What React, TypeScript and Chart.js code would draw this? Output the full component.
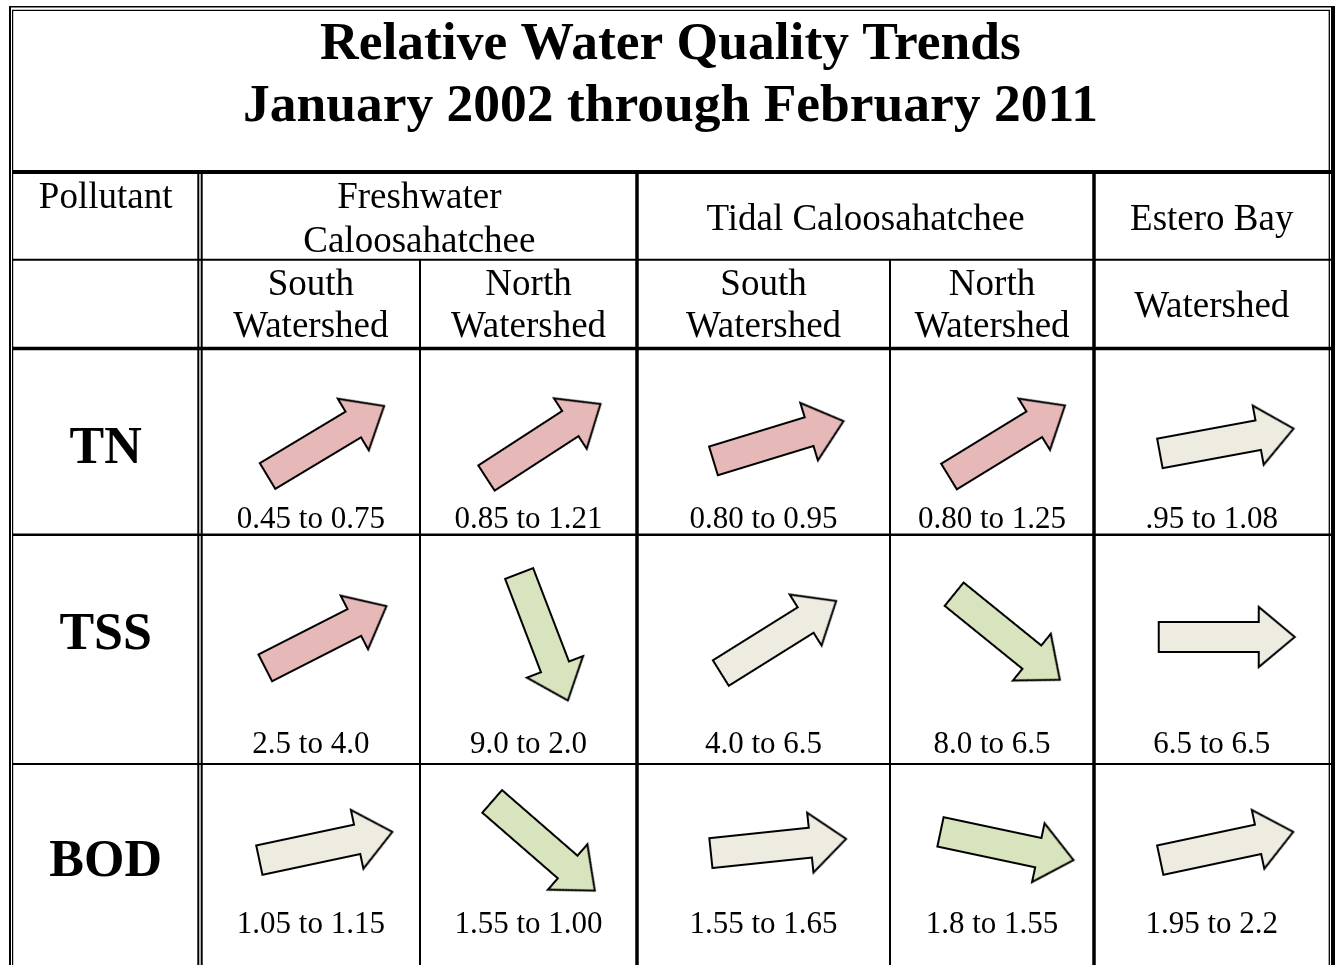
import React, { useEffect, useRef } from 'react';
import { Chart, registerables } from 'chart.js';

Chart.register(...registerables);

// ---------------- data ----------------
const titleLines = ['Relative Water Quality Trends', 'January 2002 through February 2011'];
const pollutantHeader = 'Pollutant';
const regionNames = [['Freshwater', 'Caloosahatchee'], ['Tidal Caloosahatchee'], ['Estero Bay']];
const watershedNames = [['South', 'Watershed'], ['North', 'Watershed'], ['South', 'Watershed'], ['North', 'Watershed'], ['Watershed']];
const pollutants = ['TN', 'TSS', 'BOD'];

const tnFrom = ['0.45', '0.85', '0.80', '0.80', '.95'];
const tnTo = ['0.75', '1.21', '0.95', '1.25', '1.08'];
const tssFrom = ['2.5', '9.0', '4.0', '8.0', '6.5'];
const tssTo = ['4.0', '2.0', '6.5', '6.5', '6.5'];
const bodFrom = ['1.05', '1.55', '1.55', '1.8', '1.95'];
const bodTo = ['1.15', '1.00', '1.65', '1.55', '2.2'];

// trend class of each cell: up = worsening, down = improving, none = no significant trend
const tnTrend = ['up', 'up', 'up', 'up', 'none'];
const tssTrend = ['up', 'down', 'none', 'down', 'none'];
const bodTrend = ['none', 'down', 'none', 'down', 'none'];

// direction of each trend arrow as drawn (degrees, clockwise from east)
const tnAngle = [-31, -33, -17, -31.5, -10.5];
const tssAngle = [-27, 69, -32, 39, 0];
const bodAngle = [-12, 41, -6, 12, -12];

const fromValues = [tnFrom, tssFrom, bodFrom];
const toValues = [tnTo, tssTo, bodTo];
const trends = [tnTrend, tssTrend, bodTrend];
const angles = [tnAngle, tssAngle, bodAngle];

// ---------------- look & layout ----------------
const W = 1335;
const H = 965;
const SERIF = '"Liberation Serif", "Times New Roman", serif';
const TREND_FILL: Record<string, string> = { up: '#e6b9b8', down: '#d7e4bd', none: '#eeece1' };

const LAYOUT = {
  labelCol: [13, 198.3],
  dataCols: [[201.7, 420], [420, 637], [637, 890], [890, 1094], [1094, 1329.5]],
  regionSpans: [[0, 1], [2, 3], [4, 4]],
  titleBase: [59, 121],
  head1Base: { two: [208, 252], one: 230 },
  head2Base: { two: [295, 337], one: 317 },
  rows: [
    { label: 463, value: 528, arrow: 441 },
    { label: 649, value: 753, arrow: 637 },
    { label: 876, value: 933, arrow: 846 },
  ],
  arrowDx: 15,
};

const colCenter = (c: number) => (LAYOUT.dataCols[c][0] + LAYOUT.dataCols[c][1]) / 2;

function makeArrow(fill: string): HTMLCanvasElement {
  const L = 136, sw = 30, hw = 60, hl = 36, pad = 3;
  const c = document.createElement('canvas');
  c.width = L + pad * 2;
  c.height = hw + pad * 2;
  const g = c.getContext('2d')!;
  const cy = c.height / 2, x0 = pad, x1 = pad + L, xh = x1 - hl;
  g.beginPath();
  g.moveTo(x0, cy - sw / 2);
  g.lineTo(xh, cy - sw / 2);
  g.lineTo(xh, cy - hw / 2);
  g.lineTo(x1, cy);
  g.lineTo(xh, cy + hw / 2);
  g.lineTo(xh, cy + sw / 2);
  g.lineTo(x0, cy + sw / 2);
  g.closePath();
  g.fillStyle = fill;
  g.fill();
  g.lineWidth = 2;
  g.lineJoin = 'miter';
  g.strokeStyle = '#000';
  g.stroke();
  return c;
}

const tablePlugin = {
  id: 'waterTable',
  beforeDatasetsDraw(chart: any) {
    const { ctx } = chart;
    const xs = chart.scales.x, ys = chart.scales.y;
    const X = (v: number) => xs.getPixelForValue(v);
    const Y = (v: number) => ys.getPixelForValue(v);
    ctx.save();
    ctx.fillStyle = '#fff';
    ctx.fillRect(0, 0, chart.width, chart.height);
    ctx.strokeStyle = '#000';
    const hline = (y: number, x0: number, x1: number, w: number) => {
      ctx.lineWidth = w;
      ctx.beginPath();
      ctx.moveTo(X(x0), Y(y));
      ctx.lineTo(X(x1), Y(y));
      ctx.stroke();
    };
    const vline = (x: number, y0: number, y1: number, w: number) => {
      ctx.lineWidth = w;
      ctx.beginPath();
      ctx.moveTo(X(x), Y(y0));
      ctx.lineTo(X(x), Y(y1));
      ctx.stroke();
    };
    // outer double border
    hline(6.7, 9, 1335, 1.5);
    hline(10.3, 12, 1330, 1.3);
    vline(10, 6, H, 2);
    vline(12.6, 10, H, 1.2);
    vline(1329.3, 10, H, 1.3);
    vline(1333, 6, H, 4);
    // horizontal rules
    hline(172, 12, 1331, 4);
    hline(259.7, 12, 1331, 2);
    hline(348.5, 12, 1331, 3.5);
    hline(534.8, 12, 1331, 2.5);
    hline(764, 12, 1331, 2);
    // vertical rules
    vline(198.3, 172, H, 2);
    vline(201.7, 172, H, 2);
    vline(420, 260, H, 2);
    vline(637, 172, H, 3.5);
    vline(890, 260, H, 2);
    vline(1094, 172, H, 3.5);

    // text
    ctx.fillStyle = '#000';
    ctx.textAlign = 'center';
    ctx.textBaseline = 'alphabetic';
    const mid = W / 2 + 3;
    ctx.font = `bold 53.5px ${SERIF}`;
    titleLines.forEach((t, i) => ctx.fillText(t, X(mid), Y(LAYOUT.titleBase[i])));

    ctx.font = `37px ${SERIF}`;
    const labelCx = (LAYOUT.labelCol[0] + LAYOUT.labelCol[1]) / 2;
    ctx.fillText(pollutantHeader, X(labelCx), Y(LAYOUT.head1Base.two[0]));
    regionNames.forEach((lines, i) => {
      const [a, b] = LAYOUT.regionSpans[i];
      const cx = (LAYOUT.dataCols[a][0] + LAYOUT.dataCols[b][1]) / 2;
      if (lines.length === 2) lines.forEach((t, j) => ctx.fillText(t, X(cx), Y(LAYOUT.head1Base.two[j])));
      else ctx.fillText(lines[0], X(cx), Y(LAYOUT.head1Base.one));
    });
    watershedNames.forEach((lines, c) => {
      const cx = colCenter(c);
      if (lines.length === 2) lines.forEach((t, j) => ctx.fillText(t, X(cx), Y(LAYOUT.head2Base.two[j])));
      else ctx.fillText(lines[0], X(cx), Y(LAYOUT.head2Base.one));
    });

    ctx.font = `bold 52px ${SERIF}`;
    pollutants.forEach((p, r) => ctx.fillText(p, X(labelCx), Y(LAYOUT.rows[r].label)));

    ctx.font = `31px ${SERIF}`;
    pollutants.forEach((_, r) => {
      fromValues[r].forEach((f, c) => {
        ctx.fillText(`${f} to ${toValues[r][c]}`, X(colCenter(c)), Y(LAYOUT.rows[r].value));
      });
    });
    ctx.restore();
  },
};

export default function App() {
  const ref = useRef<HTMLCanvasElement>(null);
  useEffect(() => {
    if (!ref.current) return;
    const arrowImgs: Record<string, HTMLCanvasElement> = {
      up: makeArrow(TREND_FILL.up),
      down: makeArrow(TREND_FILL.down),
      none: makeArrow(TREND_FILL.none),
    };
    const points: { x: number; y: number }[] = [];
    const styles: HTMLCanvasElement[] = [];
    const rots: number[] = [];
    pollutants.forEach((_, r) => {
      trends[r].forEach((t, c) => {
        points.push({ x: colCenter(c) + LAYOUT.arrowDx, y: LAYOUT.rows[r].arrow });
        styles.push(arrowImgs[t]);
        rots.push(angles[r][c]);
      });
    });
    const chart = new Chart(ref.current, {
      type: 'scatter',
      data: {
        datasets: [
          {
            label: 'Trend',
            data: points,
            pointStyle: styles as any,
            pointRotation: rots,
            pointRadius: 1,
            pointHoverRadius: 0,
            pointBorderWidth: 0,
            showLine: false,
            clip: false as any,
          },
        ],
      },
      options: {
        animation: false,
        responsive: false,
        maintainAspectRatio: false,
        events: [],
        layout: { padding: 0, autoPadding: false },
        scales: {
          x: { type: 'linear', min: 0, max: W, display: false },
          y: { type: 'linear', min: 0, max: H, reverse: true, display: false },
        },
        plugins: { legend: { display: false }, tooltip: { enabled: false } },
      },
      plugins: [tablePlugin],
    });
    return () => chart.destroy();
  }, []);
  return (
    <div style={{ position: 'absolute', left: 0, top: 0, width: W, height: H, background: '#fff' }}>
      <canvas ref={ref} width={W} height={H} style={{ display: 'block', width: W, height: H }} />
    </div>
  );
}
